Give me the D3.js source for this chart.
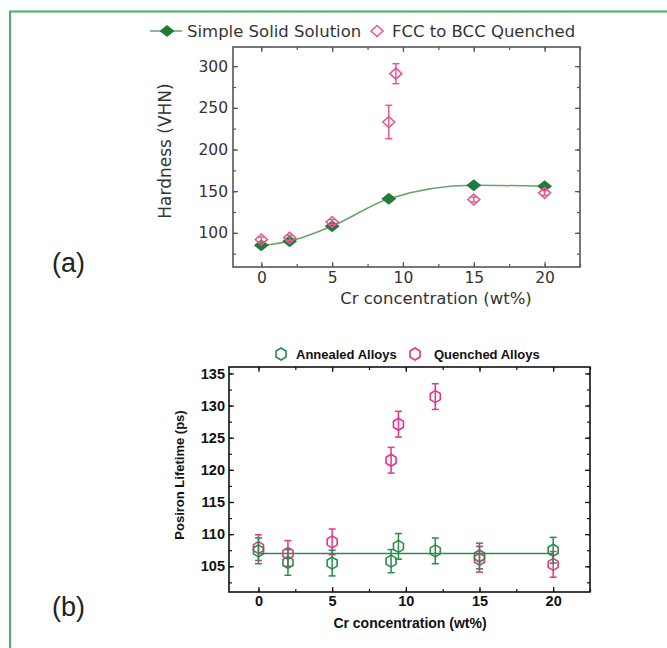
<!DOCTYPE html>
<html>
<head>
<meta charset="utf-8">
<script src="https://cdn.jsdelivr.net/npm/d3@7"></script>
<style>
  body { margin: 0; background: #fff; }
  svg { display: block; }
</style>
</head>
<body>
<svg id="chart" width="667" height="648"></svg>
<script>
// (a) hardness vs Cr
const solidX = [0, 2, 5, 9, 15, 20];
const solidY = [85, 90, 108, 141, 157, 156];
const quenchX = [0, 2, 5, 9, 9.5, 15, 20];
const quenchY = [92, 94, 113, 233, 291, 140, 148];
const quenchErr = [3, 3, 3, 20, 12, 3, 3];

// (b) positron lifetime vs Cr
const annealX = [0, 2, 5, 9, 9.5, 12, 15, 20];
const annealY = [107.4, 105.6, 105.5, 105.8, 108.1, 107.4, 106.6, 107.5];
const annealErr = [2, 2, 2, 1.8, 2, 2, 2, 2];
const quenchBX = [0, 2, 5, 9, 9.5, 12, 15, 20];
const quenchBY = [107.9, 107, 108.8, 121.5, 127.1, 131.4, 106.1, 105.3];
const quenchBErr = [2, 2, 2, 2, 2, 2, 2, 2];
const annealFit = [[0, 107], [20, 107]];

const xTicks = [0, 5, 10, 15, 20];
const hardTicks = [100, 150, 200, 250, 300];
const lifeTicks = [105, 110, 115, 120, 125, 130, 135];

const green = '#1e7d3c', pink = '#e8578f', pinkB = '#e8338a', greenB = '#2a8c4a';

const svg = d3.select('#chart');

// green page border
svg.append('path')
  .attr('d', 'M10,648 L10,11.5 L667,11.5')
  .attr('fill', 'none').attr('stroke', '#45b06a').attr('stroke-width', 2);

function frame(g, x, y, opts) {
  const [x0, x1] = x.range(), [y0, y1] = y.range();
  const minorX = d3.range(-2.5, 22.6, 2.5).filter(v => v >= x.domain()[0] && v <= x.domain()[1]);
  const minorY = d3.range(Math.ceil(y.domain()[0] / opts.yMinor) * opts.yMinor, y.domain()[1], opts.yMinor);
  const mk = (axis, tr, vals, size, fmt) => {
    const a = g.append('g').attr('transform', tr)
      .call(axis.tickValues(vals).tickSize(size).tickPadding(opts.pad).tickFormat(fmt));
    a.select('.domain').remove();
    a.selectAll('line').attr('stroke', opts.color).attr('stroke-width', 1.2);
    a.selectAll('text').attr('fill', opts.text).style('font', opts.font);
    return a;
  };
  mk(d3.axisBottom(x), `translate(0,${y0})`, minorX, -3, '');
  mk(d3.axisTop(x), `translate(0,${y1})`, minorX, -3, '');
  mk(d3.axisLeft(y), `translate(${x0},0)`, minorY, -3, '');
  mk(d3.axisRight(y), `translate(${x1},0)`, minorY, -3, '');
  mk(d3.axisBottom(x), `translate(0,${y0})`, xTicks, -5, d3.format('d'));
  mk(d3.axisTop(x), `translate(0,${y1})`, xTicks, -5, '');
  mk(d3.axisLeft(y), `translate(${x0},0)`, opts.yTicks, -5, d3.format('d'));
  mk(d3.axisRight(y), `translate(${x1},0)`, opts.yTicks, -5, '');
  g.append('rect').attr('x', x0).attr('y', y1).attr('width', x1 - x0).attr('height', y0 - y1)
    .attr('fill', 'none').attr('stroke', opts.color).attr('stroke-width', 1.6);
}

const diamond = (w, h) => `M0,${-h}L${w},0L0,${h}L${-w},0Z`;
const hexagon = 'M0,-6L5,-3L5,3L0,6L-5,3L-5,-3Z';

function errorBars(g, xs, ys, es, x, y, color) {
  const d = xs.map((v, i) => ({ x: v, y: ys[i], e: es[i] }));
  const eb = g.append('g').attr('stroke', color).attr('stroke-width', 1.5);
  eb.selectAll('.v').data(d).join('line')
    .attr('x1', p => x(p.x)).attr('x2', p => x(p.x))
    .attr('y1', p => y(p.y - p.e)).attr('y2', p => y(p.y + p.e));
  [-1, 1].forEach(s => {
    eb.selectAll('.c' + s).data(d).join('line')
      .attr('x1', p => x(p.x) - 3.5).attr('x2', p => x(p.x) + 3.5)
      .attr('y1', p => y(p.y + s * p.e)).attr('y2', p => y(p.y + s * p.e));
  });
  return d;
}

// ---------- panel (a) ----------
const xA = d3.scaleLinear().domain([-2, 22.5]).range([233, 580]);
const yA = d3.scaleLinear().domain([59, 323]).range([267, 47]);
const gA = svg.append('g');
frame(gA, xA, yA, { yTicks: hardTicks, yMinor: 25, pad: 5, color: '#555', text: '#333', font: '15.5px "DejaVu Sans"' });

gA.append('path')
  .datum(solidX.map((v, i) => [v, solidY[i]]))
  .attr('fill', 'none').attr('stroke', '#6aa36f').attr('stroke-width', 1.5)
  .attr('d', d3.line().x(d => xA(d[0])).y(d => yA(d[1])).curve(d3.curveMonotoneX));
gA.selectAll('.sd').data(solidX.map((v, i) => [v, solidY[i]])).join('path')
  .attr('transform', d => `translate(${xA(d[0])},${yA(d[1])})`)
  .attr('d', diamond(7.5, 6)).attr('fill', green);
const qd = errorBars(gA, quenchX, quenchY, quenchErr, xA, yA, pink);
gA.selectAll('.qd').data(qd).join('path')
  .attr('transform', d => `translate(${xA(d.x)},${yA(d.y)})`)
  .attr('d', diamond(6, 5.5)).attr('fill', 'none').attr('stroke', pink).attr('stroke-width', 1.6);

gA.append('text').attr('transform', 'translate(171,151) rotate(-90)').attr('text-anchor', 'middle')
  .attr('fill', '#333').style('font', '17px "DejaVu Sans"').text('Hardness (VHN)');
gA.append('text').attr('x', 436).attr('y', 304).attr('text-anchor', 'middle')
  .attr('fill', '#333').style('font', '16.5px "DejaVu Sans"').text('Cr concentration (wt%)');

// legend (a)
gA.append('line').attr('x1', 150).attr('x2', 182).attr('y1', 31).attr('y2', 31)
  .attr('stroke', '#6aa36f').attr('stroke-width', 1.5);
gA.append('path').attr('transform', 'translate(167,31)').attr('d', diamond(7.5, 6)).attr('fill', green);
gA.append('text').attr('x', 187).attr('y', 37).attr('fill', '#333')
  .style('font', '16.5px "DejaVu Sans"').text('Simple Solid Solution');
gA.append('path').attr('transform', 'translate(377,31)').attr('d', diamond(6, 5.5))
  .attr('fill', 'none').attr('stroke', pink).attr('stroke-width', 1.6);
gA.append('text').attr('x', 392).attr('y', 37).attr('fill', '#333')
  .style('font', '16.5px "DejaVu Sans"').text('FCC to BCC Quenched');

svg.append('text').attr('x', 52).attr('y', 272).attr('fill', '#222')
  .style('font', '27px "Liberation Sans", Arial').text('(a)');

// ---------- panel (b) ----------
const xB = d3.scaleLinear().domain([-2, 22.5]).range([229, 590]);
const yB = d3.scaleLinear().domain([101, 136]).range([592, 367]);
const gB = svg.append('g');
frame(gB, xB, yB, { yTicks: lifeTicks, yMinor: 2.5, pad: 4, color: '#111', text: '#111', font: 'bold 14.5px "Liberation Sans", Arial' });

gB.append('path').datum(annealFit)
  .attr('fill', 'none').attr('stroke', greenB).attr('stroke-width', 1.5)
  .attr('d', d3.line().x(d => xB(d[0])).y(d => yB(d[1])));

const qb = errorBars(gB, quenchBX, quenchBY, quenchBErr, xB, yB, pinkB);
gB.selectAll('.qh').data(qb).join('path')
  .attr('transform', d => `translate(${xB(d.x)},${yB(d.y)})`)
  .attr('d', hexagon).attr('fill', 'none').attr('stroke', pinkB).attr('stroke-width', 1.6);
const ab = errorBars(gB, annealX, annealY, annealErr, xB, yB, greenB);
gB.selectAll('.ah').data(ab).join('path')
  .attr('transform', d => `translate(${xB(d.x)},${yB(d.y)})`)
  .attr('d', hexagon).attr('fill', 'none').attr('stroke', greenB).attr('stroke-width', 1.6);

gB.append('text').attr('transform', 'translate(184,475) rotate(-90)').attr('text-anchor', 'middle')
  .attr('fill', '#111').style('font', 'bold 13px "Liberation Sans", Arial').text('Posiron Lifetime (ps)');
gB.append('text').attr('x', 410).attr('y', 628).attr('text-anchor', 'middle')
  .attr('fill', '#111').style('font', 'bold 14px "Liberation Sans", Arial').text('Cr concentration (wt%)');

// legend (b)
gB.append('path').attr('transform', 'translate(281,354)').attr('d', hexagon)
  .attr('fill', 'none').attr('stroke', greenB).attr('stroke-width', 1.6);
gB.append('text').attr('x', 296).attr('y', 359).attr('fill', '#111')
  .style('font', 'bold 13px "Liberation Sans", Arial').text('Annealed Alloys');
gB.append('path').attr('transform', 'translate(415,354)').attr('d', hexagon)
  .attr('fill', 'none').attr('stroke', pinkB).attr('stroke-width', 1.6);
gB.append('text').attr('x', 434).attr('y', 359).attr('fill', '#111')
  .style('font', 'bold 13px "Liberation Sans", Arial').text('Quenched Alloys');

svg.append('text').attr('x', 52).attr('y', 616).attr('fill', '#222')
  .style('font', '27px "Liberation Sans", Arial').text('(b)');
</script>
</body>
</html>
